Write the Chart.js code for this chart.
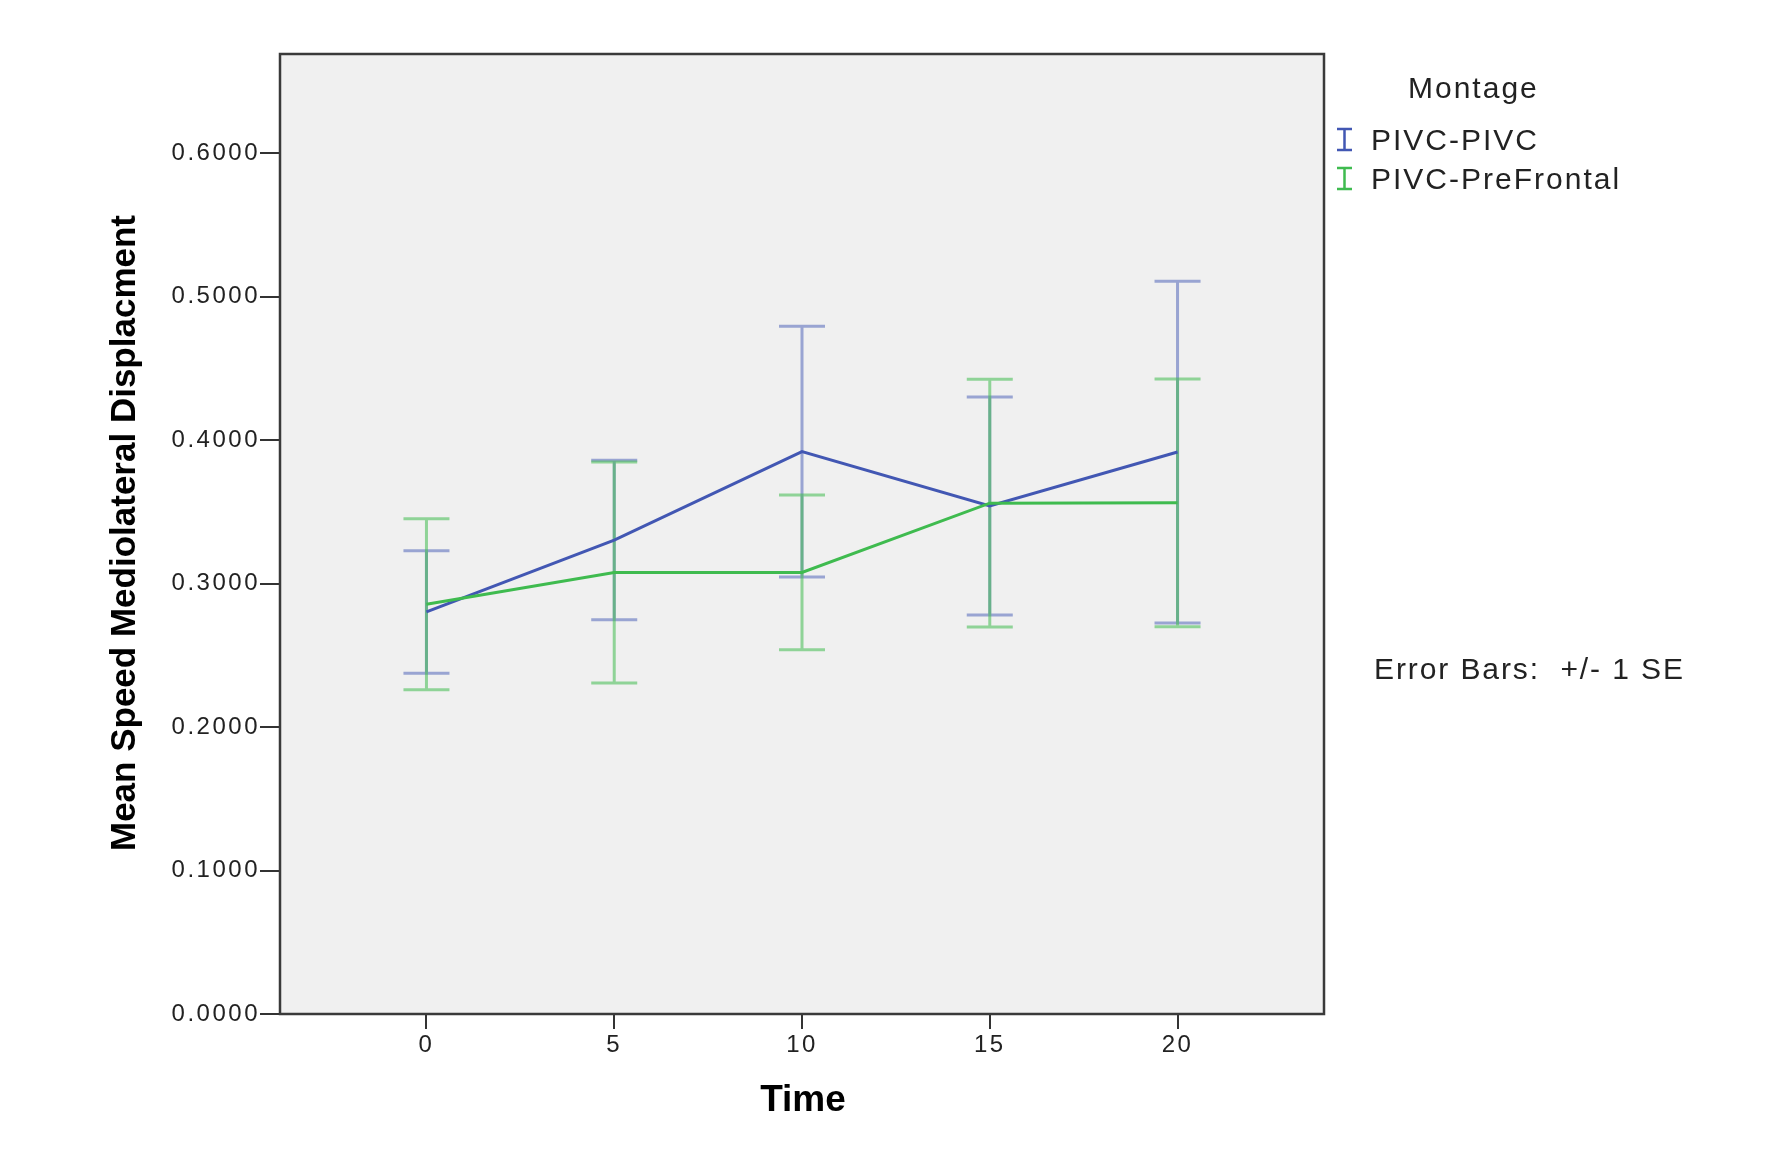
<!DOCTYPE html>
<html>
<head>
<meta charset="utf-8">
<script src="https://cdn.jsdelivr.net/npm/chart.js@4.4.0/dist/chart.umd.min.js"></script>
<style>
html, body { margin: 0; padding: 0; background: #fff; }
canvas { display: block; }
</style>
</head>
<body>
<canvas id="chart" width="1772" height="1153"></canvas>
<script>
var times = [0, 5, 10, 15, 20];
var yTicks = [0, 0.1, 0.2, 0.3, 0.4, 0.5, 0.6];
var seriesNames = ['PIVC-PIVC', 'PIVC-PreFrontal'];
// means and standard errors
var pivcMean = [0.2802, 0.3303, 0.3919, 0.3540, 0.3916];
var pivcSE = [0.0427, 0.0556, 0.0874, 0.0760, 0.1191];
var preMean = [0.2856, 0.3076, 0.3077, 0.3560, 0.3562];
var preSE = [0.0596, 0.0770, 0.0539, 0.0863, 0.0863];

var blue = '#4257b3';
var green = '#3fbb4f';
var font = 'Liberation Sans, Arial, sans-serif';

function points(means) {
    return times.map(function (t, i) { return { x: t, y: means[i] }; });
}

var spssLook = {
    id: 'spssLook',
    beforeDraw: function (chart) {
        var ctx = chart.ctx, a = chart.chartArea;
        ctx.save();
        ctx.fillStyle = '#f0f0f0';
        ctx.fillRect(a.left, a.top, a.right - a.left, a.bottom - a.top);
        ctx.restore();
        ctx.letterSpacing = '2.5px';
    },
    beforeDatasetsDraw: function (chart) {
        var ctx = chart.ctx, xs = chart.scales.x, ys = chart.scales.y;
        ctx.save();
        ctx.lineWidth = 3;
        chart.data.datasets.forEach(function (ds) {
            ctx.strokeStyle = ds.barColor;
            ds.data.forEach(function (p, i) {
                var x = xs.getPixelForValue(p.x);
                var top = ys.getPixelForValue(p.y + ds.se[i]);
                var bot = ys.getPixelForValue(p.y - ds.se[i]);
                ctx.beginPath();
                ctx.moveTo(x, top); ctx.lineTo(x, bot);
                ctx.moveTo(x - 23, top); ctx.lineTo(x + 23, top);
                ctx.moveTo(x - 23, bot); ctx.lineTo(x + 23, bot);
                ctx.stroke();
            });
        });
        ctx.restore();
    },
    afterDraw: function (chart) {
        var ctx = chart.ctx, a = chart.chartArea;
        ctx.save();
        // frame
        ctx.strokeStyle = '#3a3a3a';
        ctx.lineWidth = 2.5;
        ctx.strokeRect(a.left, a.top, a.right - a.left, a.bottom - a.top);

        // axis titles
        ctx.letterSpacing = '0px';
        ctx.fillStyle = '#000';
        ctx.font = 'bold 37px ' + font;
        ctx.textAlign = 'center';
        ctx.textBaseline = 'alphabetic';
        ctx.fillText('Time', 803, 1111);
        ctx.save();
        ctx.translate(135, 533);
        ctx.rotate(-Math.PI / 2);
        ctx.font = 'bold 35px ' + font;
        ctx.fillText('Mean Speed Mediolateral Displacment', 0, 0);
        ctx.restore();

        // legend
        ctx.letterSpacing = '2px';
        ctx.textAlign = 'left';
        ctx.font = '30px ' + font;
        ctx.fillStyle = '#222';
        ctx.fillText('Montage', 1408, 98);
        var colors = [blue, green];
        seriesNames.forEach(function (name, i) {
            var base = 150 + i * 39;
            ctx.strokeStyle = colors[i];
            ctx.lineWidth = 2.5;
            ctx.beginPath();
            ctx.moveTo(1344.5, base - 21); ctx.lineTo(1344.5, base);
            ctx.moveTo(1337, base - 21); ctx.lineTo(1352, base - 21);
            ctx.moveTo(1337, base); ctx.lineTo(1352, base);
            ctx.stroke();
            ctx.fillText(name, 1371, base);
        });
        ctx.letterSpacing = '1.9px';
        ctx.fillText('Error Bars:  +/- 1 SE', 1374, 679);
        ctx.restore();
    }
};

new Chart(document.getElementById('chart').getContext('2d'), {
    type: 'line',
    data: {
        datasets: [{
            label: seriesNames[0],
            data: points(pivcMean),
            se: pivcSE,
            borderColor: blue,
            barColor: 'rgba(66,87,179,0.5)',
            borderWidth: 3,
            pointRadius: 0,
            order: 2
        }, {
            label: seriesNames[1],
            data: points(preMean),
            se: preSE,
            borderColor: green,
            barColor: 'rgba(63,187,79,0.55)',
            borderWidth: 3,
            pointRadius: 0,
            order: 1
        }]
    },
    options: {
        responsive: false,
        devicePixelRatio: 1,
        animation: false,
        layout: { padding: { top: 54, right: 448, bottom: 0, left: 0 } },
        plugins: { legend: { display: false }, tooltip: { enabled: false } },
        scales: {
            x: {
                type: 'linear',
                min: -3.9,
                max: 23.9,
                afterBuildTicks: function (s) { s.ticks = times.map(function (v) { return { value: v }; }); },
                afterFit: function (s) { s.height = 139; },
                ticks: { font: { family: font, size: 24 }, color: '#222', padding: 2, maxRotation: 0, autoSkip: false },
                grid: { drawOnChartArea: false, tickLength: 15, color: '#333', lineWidth: 2 },
                border: { display: false }
            },
            y: {
                min: 0,
                max: 0.669,
                afterBuildTicks: function (s) { s.ticks = yTicks.map(function (v) { return { value: v }; }); },
                afterFit: function (s) { s.width = 280; },
                ticks: {
                    font: { family: font, size: 24 }, color: '#222', padding: 0,
                    callback: function (v) { return v.toFixed(4); }
                },
                grid: { drawOnChartArea: false, tickLength: 20, color: '#333', lineWidth: 2 },
                border: { display: false }
            }
        }
    },
    plugins: [spssLook]
});
</script>
</body>
</html>
